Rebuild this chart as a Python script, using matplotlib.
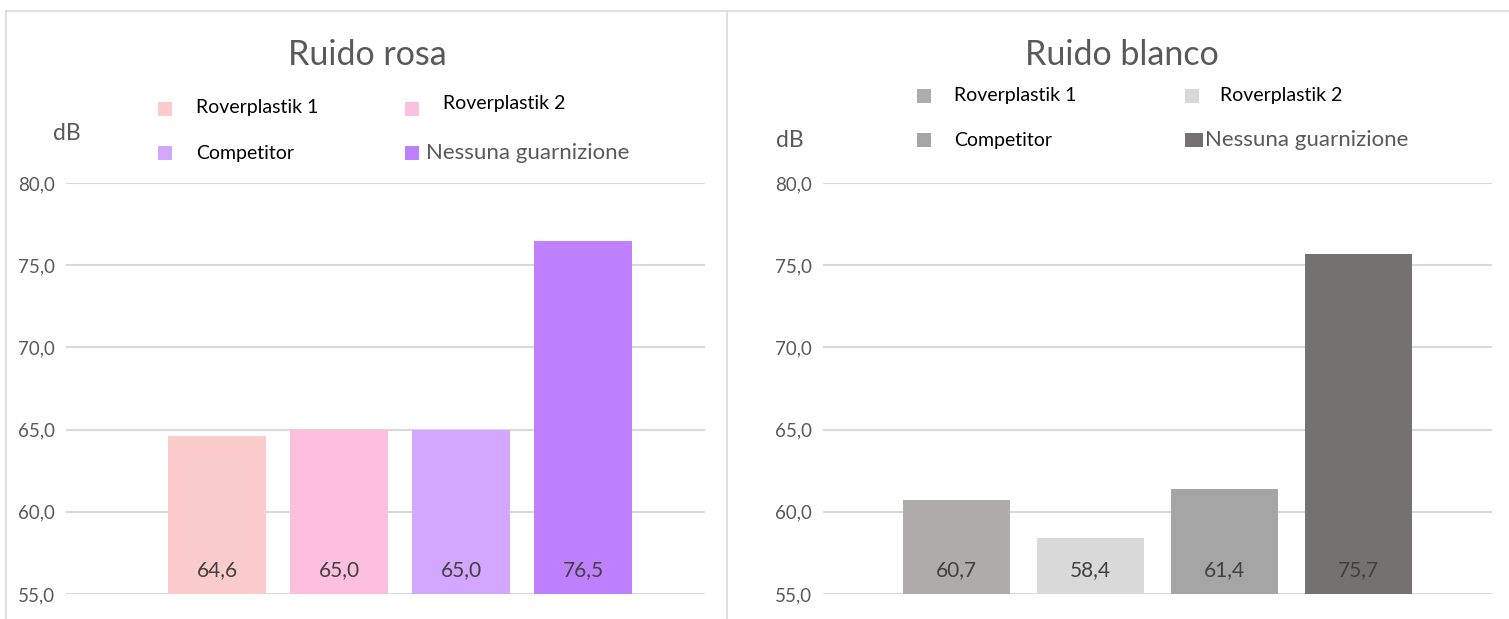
import matplotlib.pyplot as plt
from matplotlib.patches import Rectangle
from matplotlib.lines import Line2D

plt.rcParams['font.family'] = ['Lato', 'DejaVu Sans']

# data
series = ['Roverplastik 1', 'Roverplastik 2', 'Competitor', 'Nessuna guarnizione']
rosa_vals = [64.6, 65.0, 65.0, 76.5]
bianco_vals = [60.7, 58.4, 61.4, 75.7]
rosa_colors = ['#FCCBCB', '#FCBFE0', '#D3A6FF', '#BF80FF']
bianco_colors = ['#AFABAB', '#D9D9D9', '#A5A5A5', '#767171']
yticks = [55, 60, 65, 70, 75, 80]

W, H = 1509, 619
fig = plt.figure(figsize=(W / 100, H / 100), dpi=100)

GRAY = '#595959'
GRID = '#D9D9D9'


def fx(px):
    return px / W


def fy(py):
    return 1 - py / H


def panel(ax_rect, vals, colors, xlim, title, title_x, db_xy, legend):
    ax = fig.add_axes(ax_rect)
    x = range(len(vals))
    ax.bar(x, [v - 55 for v in vals], bottom=55, width=0.8, color=colors, zorder=3)
    for xi, v in zip(x, vals):
        ax.text(xi, 56.45, f'{v:.1f}'.replace('.', ','), ha='center', va='center',
                fontsize=15, color='#404040', zorder=4)
    ax.set_ylim(55, 80)
    ax.set_xlim(*xlim)
    ax.set_yticks(yticks)
    ax.set_yticklabels([f'{t:.1f}'.replace('.', ',') for t in yticks])
    ax.set_xticks([])
    ax.tick_params(axis='y', length=0, pad=8, labelsize=13.5, labelcolor=GRAY)
    ax.grid(axis='y', color=GRID, lw=1.5, zorder=0)
    for s in ax.spines.values():
        s.set_visible(False)
    ax.set_facecolor('none')

    fig.text(fx(title_x), fy(55), title, ha='center', va='center', fontsize=24.5, color=GRAY)
    fig.text(fx(db_xy[0]), fy(db_xy[1]), 'dB', ha='center', va='center', fontsize=16.5, color=GRAY)

    for (mx, my, mw, tx, ty), name, c in zip(legend, series, colors):
        fig.add_artist(Rectangle((fx(mx), fy(my + 7)), mw / W, 14 / H,
                                 transform=fig.transFigure, color=c, lw=0))
        if name == 'Nessuna guarnizione':
            fig.text(fx(tx), fy(ty), name, ha='left', va='center', fontsize=16, color=GRAY)
        else:
            fig.text(fx(tx), fy(ty), name, ha='left', va='center', fontsize=14, color='black')
    return ax


panel([fx(66), fy(594), fx(705) - fx(66), (594 - 183) / H], rosa_vals, rosa_colors,
      (-1.24, 4.0), 'Ruido rosa', 367, (67, 133),
      [(158, 109, 14, 196, 107), (405, 109, 14, 443, 104),
       (158, 153, 14, 196, 153), (405, 153, 14, 426, 153)])

panel([fx(823), fy(594), fx(1492) - fx(823), (594 - 183) / H], bianco_vals, bianco_colors,
      (-1.0, 4.0), 'Ruido blanco', 1122, (790, 140),
      [(917, 96, 14, 954, 96), (1185, 96, 14, 1220, 96),
       (917, 140, 14, 954, 140), (1185, 140, 18, 1205, 140)])

# chart frames
fig.add_artist(Line2D([fx(6), fx(727)], [fy(11), fy(11)], color=GRID, lw=1.2))
fig.add_artist(Line2D([fx(6), fx(6)], [fy(11), 0], color=GRID, lw=1.2))
fig.add_artist(Line2D([fx(727), fx(727)], [fy(11), 0], color=GRID, lw=1.2))
fig.add_artist(Line2D([fx(727), 1], [fy(11), fy(11)], color=GRID, lw=1.2))

fig.savefig('out.png', dpi=100, facecolor='white')
